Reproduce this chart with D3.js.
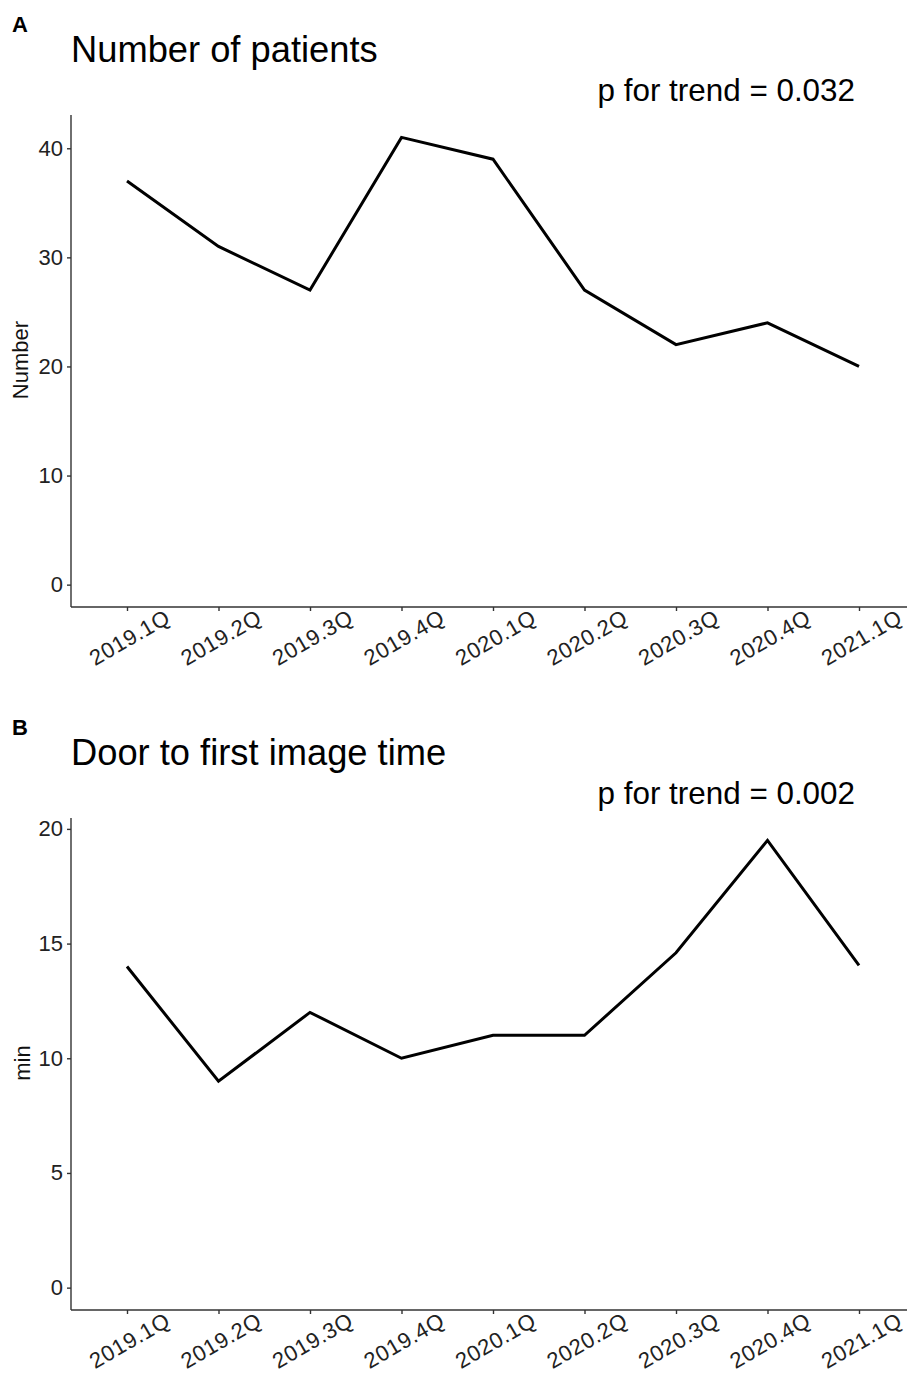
<!DOCTYPE html>
<html>
<head>
<meta charset="utf-8">
<script src="https://cdn.jsdelivr.net/npm/d3@7"></script>
<style>
  body { margin: 0; background: #fff; }
  text { font-family: "Liberation Sans", Arial, sans-serif; }
</style>
</head>
<body>
<div id="chart"></div>
<script>
// quarters on the x axis
var quarters = ["2019.1Q", "2019.2Q", "2019.3Q", "2019.4Q", "2020.1Q", "2020.2Q", "2020.3Q", "2020.4Q", "2021.1Q"];

// panel A: number of patients
var patients = [37, 31, 27, 41, 39, 27, 22, 24, 20];
var patientTicks = [0, 10, 20, 30, 40];

// panel B: door to first image time (min)
var doorTime = [14, 9, 12, 10, 11, 11, 14.6, 19.5, 14.05];
var doorTicks = [0, 5, 10, 15, 20];

var svgWidth = 907;
var svgHeight = 1374;

var svg = d3.select("#chart")
  .append("svg")
  .attr("width", svgWidth)
  .attr("height", svgHeight);

// draw one panel: tag letter, title, p value, axis label
function drawPanel(opts) {
  var top = opts.top;
  var g = svg.append("g");

  var xScale = d3.scalePoint()
    .domain(quarters)
    .range([127, 859]);

  // ggplot style 5% expansion around [0, max]
  var maxV = d3.max(opts.values);
  var pad = maxV * 0.05;
  var yScale = d3.scaleLinear()
    .domain([-pad, maxV + pad])
    .range([top + 492, top]);

  var axisY = top + 492;

  // panel letter
  g.append("text")
    .attr("x", 12)
    .attr("y", top - 83)
    .attr("font-size", "22px")
    .attr("font-weight", "bold")
    .text(opts.tag);

  // title
  g.append("text")
    .attr("x", 71)
    .attr("y", top - 53)
    .attr("font-size", "36.3px")
    .text(opts.title);

  // p for trend
  g.append("text")
    .attr("x", 855)
    .attr("y", top - 14)
    .attr("text-anchor", "end")
    .attr("font-size", "31.4px")
    .text(opts.pText);

  // y axis
  var leftAxis = d3.axisLeft(yScale)
    .tickValues(opts.ticks)
    .tickSize(4)
    .tickPadding(4);

  var yAxis = g.append("g")
    .attr("transform", "translate(71,0)")
    .call(leftAxis);
  yAxis.select(".domain").attr("d", "M0," + top + "V" + axisY);

  // x axis
  var bottomAxis = d3.axisBottom(xScale)
    .tickSize(4);

  var xAxis = g.append("g")
    .attr("transform", "translate(0," + axisY + ")")
    .call(bottomAxis);
  xAxis.select(".domain").attr("d", "M71,0H907");

  [yAxis, xAxis].forEach(function(a) {
    a.select(".domain").attr("stroke", "#333").attr("stroke-width", 1.4);
    a.selectAll(".tick line").attr("stroke", "#333").attr("stroke-width", 1.4);
    a.selectAll(".tick text")
      .attr("fill", "#222")
      .attr("font-size", "22px")
      .attr("font-family", "Liberation Sans, Arial, sans-serif");
  });

  xAxis.selectAll(".tick text")
    .attr("text-anchor", "middle")
    .attr("dy", null)
    .attr("y", null)
    .attr("letter-spacing", "0.6px")
    .attr("transform", "translate(3,32) rotate(-30)")
    .attr("dominant-baseline", "middle");

  // y axis title
  g.append("text")
    .attr("transform", "translate(" + opts.labelX + "," + (top + 245) + ") rotate(-90)")
    .attr("text-anchor", "middle")
    .attr("dominant-baseline", "middle")
    .attr("font-size", "22px")
    .attr("fill", "#111")
    .text(opts.yLabel);

  // the line
  var line = d3.line()
    .x(function(d, i) { return xScale(quarters[i]); })
    .y(function(d) { return yScale(d); });

  g.append("path")
    .datum(opts.values)
    .attr("d", line)
    .attr("fill", "none")
    .attr("stroke", "#000")
    .attr("stroke-width", 3);
}

drawPanel({
  top: 115,
  tag: "A",
  title: "Number of patients",
  pText: "p for trend = 0.032",
  yLabel: "Number",
  labelX: 22,
  values: patients,
  ticks: patientTicks
});

drawPanel({
  top: 818,
  tag: "B",
  title: "Door to first image time",
  pText: "p for trend = 0.002",
  yLabel: "min",
  labelX: 24,
  values: doorTime,
  ticks: doorTicks
});
</script>
</body>
</html>
